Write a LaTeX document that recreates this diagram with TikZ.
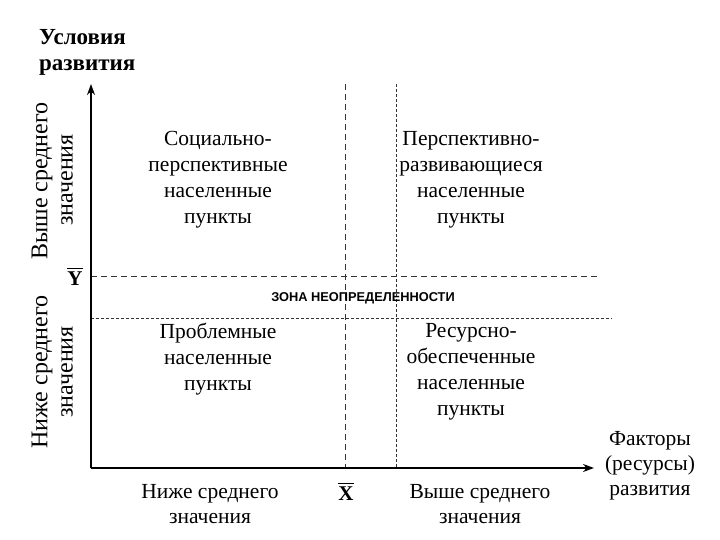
\documentclass[tikz,border=0pt]{standalone}
\usepackage{fontspec}
\setmainfont{Liberation Serif}
\newfontfamily\zonefont{Liberation Sans}
\usetikzlibrary{arrows.meta}
\begin{document}
\begin{tikzpicture}[x=1pt,y=-1pt,
  axis/.style={line width=1.6pt,-{Stealth[length=11pt,width=8pt]}},
  quad/.style={align=center,font=\fontsize{21.5}{26}\selectfont,inner sep=0pt},
  side/.style={align=center,font=\fontsize{21.5}{25}\selectfont,inner sep=0pt},
  rot/.style={rotate=90,font=\fontsize{24}{24}\selectfont,inner sep=0pt},
  rots/.style={rotate=90,font=\fontsize{24}{24}\selectfont,inner sep=0pt},
  barlbl/.style={font=\bfseries\fontsize{21}{24}\selectfont,inner sep=0pt},
  dline/.style={line width=0.8pt,dash pattern=on 6pt off 4pt,black!80},
  fline/.style={line width=0.8pt,dash pattern=on 3pt off 2pt,black!80}]
\useasboundingbox (0,0) rectangle (720,540);
\coordinate (O) at (91,468);
\coordinate (yt) at (91,84);
\coordinate (xt) at (594,468);
% dashed lines
\coordinate (h1a) at (91,276); \coordinate (h1b) at (600,276);
\coordinate (h2a) at (91,318); \coordinate (h2b) at (612,318);
\coordinate (v1a) at (345,84); \coordinate (v1b) at (345,468);
\coordinate (v2a) at (396,84); \coordinate (v2b) at (396,468);
\draw[dline] (h1a) -- (h1b);
\draw[fline] (h2a) -- (h2b);
\draw[dline] (v1a) -- (v1b);
\draw[fline] (v2a) -- (v2b);
\draw[axis] (O) -- (yt);
\draw[axis] (O) -- (xt);
% titles
\node[anchor=west,align=left,font=\bfseries\fontsize{23}{26}\selectfont,inner sep=0pt] (ty) at (39,52) {Условия\\развития};
\node[rot] (r1) at (42,181) {Выше среднего};
\node[rots] (r2) at (67,180) {значения};
\node[rot] (r3) at (42,372) {Ниже среднего};
\node[rots] (r4) at (67,372) {значения};
\node[barlbl] (ybar) at (75,279) {Y};
\draw[line width=0.6pt] ([yshift=4pt]ybar.north west) -- ([yshift=4pt]ybar.north east);
\node[barlbl] (xbar) at (346,494) {X};
\draw[line width=0.6pt] ([yshift=4pt]xbar.north west) -- ([yshift=4pt]xbar.north east);
% quadrants
\node[quad] (q1) at (218,180) {Социально-\\перспективные\\населенные\\пункты};
\node[quad] (q2) at (471,180) {Перспективно-\\развивающиеся\\населенные\\пункты};
\node[quad] (q3) at (218,359) {Проблемные\\населенные\\пункты};
\node[quad] (q4) at (471,372) {Ресурсно-\\обеспеченные\\населенные\\пункты};
\node[font=\zonefont\bfseries\fontsize{12.8}{14}\selectfont,inner sep=0pt] (zone) at (363,298) {ЗОНА НЕОПРЕДЕЛЕННОСТИ};
% x labels
\node[side] (xl) at (210,504) {Ниже среднего\\значения};
\node[side] (xr) at (480,504) {Выше среднего\\значения};
\node[side] (xf) at (650,466) {Факторы\\(ресурсы)\\развития};
\end{tikzpicture}
\end{document}
